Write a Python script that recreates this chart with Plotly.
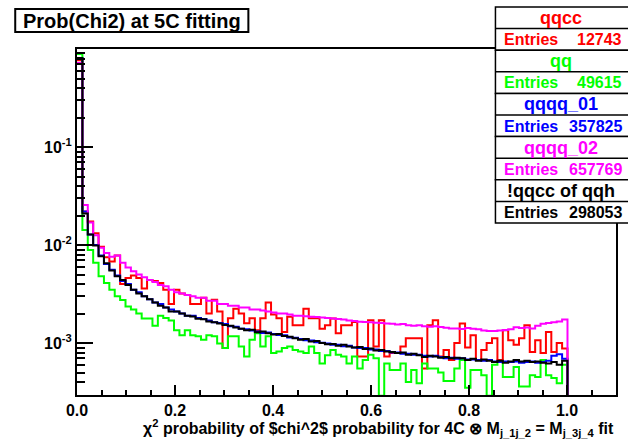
import numpy as np
import plotly.graph_objects as go

# ---------------- data (normalised bin contents, 100 bins on [0, 1.1]) ----------------
bin_edges = np.linspace(0.0, 1.1, 101)

qqcc = [0.77, 0.022, 0.0174, 0.0132, 0.0096, 0.0075, 0.0068, 0.0078, 0.0040, 0.0046,
        0.0049, 0.0046, 0.0036, 0.0044, 0.0043, 0.0041, 0.0035, 0.0025, 0.0035, 0.0032,
        0.0031, 0.0025, 0.0025, 0.0029, 0.0020, 0.00276, 0.0021, 0.00089, 0.00179, 0.00224,
        0.0020, 0.00159, 0.00179, 0.00135, 0.00179, 0.0026, 0.00195, 0.00179, 0.0013, 0.00186,
        0.00152, 0.00152, 0.00224, 0.00179, 0.00179, 0.0014, 0.00152, 0.00178, 0.00126, 0.00152,
        0.00152, 0.00164, 0.00073, 0.00073, 0.00171, 0.00092, 0.00171, 0.00073, 0.00079, 0.00079,
        0.00092, 0.00112, 0.00112, 0.00112, 0.00055, 0.00152, 0.00171, 0.00073, 0.00085, 0.00067,
        0.0010, 0.00158, 0.0009, 0.0012, 0.00067, 0.00085, 0.0010, 0.00112, 0.00067, 0.00135,
        0.00107, 0.00096, 0.00112, 0.00152, 0.00081, 0.00107, 0.00079, 0.0013, 0.00081, 0.0010,
        0.00088, 0, 0, 0, 0, 0, 0, 0, 0, 0]

qq = [0.89, 0.0142, 0.0089, 0.0066, 0.0048, 0.0041, 0.0035, 0.0030, 0.00275, 0.00236,
      0.0022, 0.0020, 0.00178, 0.00178, 0.0015, 0.0019, 0.0018, 0.0017, 0.00135, 0.0012,
      0.00135, 0.0012, 0.00117, 0.00108, 0.0012, 0.00117, 0.00099, 0.00089, 0.00117, 0.00117,
      0.00092, 0.00073, 0.00108, 0.00126, 0.00092, 0.00117, 0.00079, 0.00082, 0.00089, 0.00092,
      0.00085, 0.00082, 0.00079, 0.00092, 0.00079, 0.00062, 0.00075, 0.00085, 0.00076, 0.00073,
      0.00062, 0.00073, 0.00055, 0.00067, 0.00076, 0.00070, 0.00029, 0.00062, 0.00053, 0.00053,
      0.00062, 0.00040, 0.00053, 0.00039, 0.00062, 0.00055, 0.00055, 0.00050, 0.00041, 0.00041,
      0.00055, 0.00067, 0.00035, 0.00053, 0.00053, 0.00047, 0.00029, 0.00060, 0.00065, 0.00045,
      0.00045, 0.00057, 0.00036, 0.00036, 0.00047, 0.00045, 0.00067, 0.00047, 0.00044, 0.00039,
      0.00060, 0, 0, 0, 0, 0, 0, 0, 0, 0]

qqqq_01 = [0.81, 0.022, 0.0128, 0.0100, 0.0078, 0.0064, 0.0056, 0.0049, 0.0043, 0.0040,
           0.0035, 0.0033, 0.0030, 0.0028, 0.0026, 0.0025, 0.0023, 0.0022, 0.0021, 0.0020,
           0.0019, 0.0019, 0.00180, 0.00176, 0.00170, 0.00163, 0.00160, 0.00156, 0.00148, 0.00147,
           0.00140, 0.00138, 0.00134, 0.00131, 0.00127, 0.00128, 0.00124, 0.00121, 0.00120, 0.00114,
           0.00113, 0.00110, 0.00107, 0.00106, 0.00102, 0.00101, 0.00099, 0.00096, 0.00096, 0.00093,
           0.00094, 0.00090, 0.00089, 0.00089, 0.00086, 0.00086, 0.00083, 0.00083, 0.00080, 0.00080,
           0.00078, 0.00078, 0.00076, 0.00076, 0.00074, 0.00073, 0.00074, 0.00072, 0.00070, 0.00071,
           0.00069, 0.00070, 0.00068, 0.00068, 0.00067, 0.00066, 0.00067, 0.00065, 0.00064, 0.00065,
           0.00064, 0.00065, 0.00063, 0.00064, 0.00065, 0.00063, 0.00064, 0.00066, 0.00074, 0.00077,
           0.00069, 0, 0, 0, 0, 0, 0, 0, 0, 0]

qqqq_02 = [0.72, 0.0256, 0.0170, 0.0126, 0.0094, 0.0083, 0.0076, 0.0078, 0.0066, 0.0059,
           0.0054, 0.0050, 0.0047, 0.0044, 0.0042, 0.0039, 0.0038, 0.0035, 0.0033, 0.0032,
           0.0031, 0.0030, 0.0029, 0.0029, 0.0027, 0.0027, 0.0025, 0.0025, 0.0024, 0.0024,
           0.0023, 0.0023, 0.0022, 0.0022, 0.00215, 0.0021, 0.00205, 0.0020, 0.0020, 0.00195,
           0.0019, 0.0019, 0.00188, 0.00185, 0.00184, 0.00182, 0.0018, 0.00178, 0.00176, 0.00174,
           0.00170, 0.00168, 0.00165, 0.00164, 0.00163, 0.00161, 0.00160, 0.00158, 0.00157, 0.00155,
           0.00156, 0.00152, 0.00150, 0.00152, 0.00148, 0.00147, 0.00148, 0.00146, 0.00143, 0.00141,
           0.00141, 0.00139, 0.00142, 0.00140, 0.00138, 0.00134, 0.00133, 0.00133, 0.00134, 0.00136,
           0.00138, 0.00145, 0.00142, 0.00144, 0.00141, 0.00150, 0.00157, 0.00160, 0.00163, 0.00166,
           0.00174, 0, 0, 0, 0, 0, 0, 0, 0, 0]

not_qqcc = [0.81, 0.021, 0.0128, 0.0099, 0.0077, 0.0065, 0.0055, 0.0048, 0.0044, 0.0039,
            0.0035, 0.0032, 0.0030, 0.0028, 0.0026, 0.0024, 0.0023, 0.0021, 0.0021, 0.0020,
            0.0019, 0.00187, 0.00177, 0.00175, 0.00166, 0.00163, 0.00158, 0.00153, 0.00150, 0.00144,
            0.00140, 0.00135, 0.00137, 0.00129, 0.00131, 0.00126, 0.00122, 0.00124, 0.00118, 0.00116,
            0.00112, 0.00108, 0.00110, 0.00104, 0.00105, 0.00100, 0.00097, 0.00098, 0.00094, 0.00096,
            0.00092, 0.00090, 0.00091, 0.00087, 0.00088, 0.00084, 0.00085, 0.00082, 0.00081, 0.00079,
            0.00080, 0.00076, 0.00078, 0.00075, 0.00072, 0.00074, 0.00073, 0.00071, 0.00072, 0.00070,
            0.00071, 0.00070, 0.00067, 0.00069, 0.00066, 0.00068, 0.00066, 0.00064, 0.00066, 0.00063,
            0.00065, 0.00067, 0.00065, 0.00066, 0.00064, 0.00065, 0.00063, 0.00062, 0.00064, 0.00060,
            0.00066, 0, 0, 0, 0, 0, 0, 0, 0, 0]

series_names = ["qqcc", "qq", "qqqq_01", "qqqq_02", "!qqcc of qqh"]
series_values = [qqcc, qq, qqqq_01, qqqq_02, not_qqcc]
series_colors = ["#ff0000", "#00ff00", "#0000ff", "#ff00ff", "#000000"]
entries = ["12743", "49615", "357825", "657769", "298053"]

title_text = "Prob(Chi2) at 5C fitting"
x_title = ("χ<sup>2</sup> probability of $chi^2$ probability for 4C ⊗ "
           "M<sub>j_1j_2</sub> = M<sub>j_3j_4</sub> fit")
y_tickvals = [1e-3, 1e-2, 1e-1]
y_ticktext = ["10<sup>-3</sup>", "10<sup>-2</sup>", "10<sup>-1</sup>"]

# ---------------- layout geometry ----------------
W, H = 628, 441
ML, MR, MT, MB = 77, 10, 49, 46
PW, PH = W - ML - MR, H - MT - MB


def px(x):
    return (x - ML) / PW


def py(y):
    return (H - MB - y) / PH


FONT = "Liberation Sans, Arial, Helvetica, sans-serif"

fig = go.Figure()
for name, vals, col in zip(series_names, series_values, series_colors):
    v = np.array(vals, dtype=float)
    v = np.where(v > 0, v, 1e-7)
    y = np.append(v, v[-1])
    fig.add_trace(go.Scatter(x=bin_edges, y=y, mode="lines", line_shape="hv",
                             line=dict(color=col, width=2), name=name,
                             showlegend=False, hoverinfo="skip"))

fig.update_layout(
    width=W, height=H,
    margin=dict(l=ML, r=MR, t=MT, b=MB),
    paper_bgcolor="white", plot_bgcolor="white",
    font=dict(family=FONT, color="black"),
    xaxis=dict(range=[0, 1.1], showgrid=False, zeroline=False,
               showline=True, linecolor="black", linewidth=2, mirror=True,
               ticks="inside", ticklen=10, tickwidth=1.5, tickcolor="black",
               tick0=0, dtick=0.2, tickformat=".1f",
               tickfont=dict(family=FONT, size=16, weight="bold"),
               minor=dict(ticks="inside", ticklen=5, tickwidth=1.5,
                          tickcolor="black", dtick=0.05)),
    yaxis=dict(type="log", range=[-3.53, 0.0], showgrid=False, zeroline=False,
               showline=True, linecolor="black", linewidth=2, mirror=True,
               ticks="inside", ticklen=16, tickwidth=1.5, tickcolor="black",
               tickvals=y_tickvals, ticktext=y_ticktext,
               tickfont=dict(family=FONT, size=16, weight="bold"),
               minor=dict(ticks="inside", ticklen=8, tickwidth=1.5,
                          tickcolor="black", dtick="D1")),
)

shapes = []
annotations = []

# title box
shapes.append(dict(type="rect", xref="paper", yref="paper",
                   x0=px(15), x1=px(249), y0=py(32), y1=py(9),
                   line=dict(color="black", width=2), fillcolor="white", layer="above"))
annotations.append(dict(xref="paper", yref="paper", x=px(132), y=py(21),
                        text=title_text, showarrow=False, xanchor="center", yanchor="middle",
                        font=dict(family=FONT, size=20, weight="bold", color="black")))

# stats boxes
for k, (name, col, ent) in enumerate(zip(series_names, series_colors, entries)):
    top = 7 + 43.2 * k
    mid = top + 21.6
    bot = top + 43.2
    shapes.append(dict(type="rect", xref="paper", yref="paper",
                       x0=px(497), x1=px(640), y0=py(bot), y1=py(top),
                       line=dict(color="black", width=1.5), fillcolor="white", layer="above"))
    shapes.append(dict(type="line", xref="paper", yref="paper",
                       x0=px(497), x1=px(640), y0=py(mid), y1=py(mid),
                       line=dict(color="black", width=1.5), layer="above"))
    annotations.append(dict(xref="paper", yref="paper", x=px(563), y=py(top + 11),
                            text=name, showarrow=False, xanchor="center", yanchor="middle",
                            font=dict(family=FONT, size=18, weight="bold", color=col)))
    annotations.append(dict(xref="paper", yref="paper", x=px(504), y=py(mid + 11),
                            text="Entries", showarrow=False, xanchor="left", yanchor="middle",
                            font=dict(family=FONT, size=16, weight="bold", color=col)))
    annotations.append(dict(xref="paper", yref="paper", x=px(626), y=py(mid + 11),
                            text=ent, showarrow=False, xanchor="right", yanchor="middle",
                            font=dict(family=FONT, size=16, weight="bold", color=col)))

# x-axis title
annotations.append(dict(xref="paper", yref="paper", x=px(618), y=py(428),
                        text=x_title, showarrow=False, xanchor="right", yanchor="middle",
                        font=dict(family=FONT, size=16, weight="bold", color="black")))

fig.update_layout(shapes=shapes, annotations=annotations)
fig.write_html("out.html")
